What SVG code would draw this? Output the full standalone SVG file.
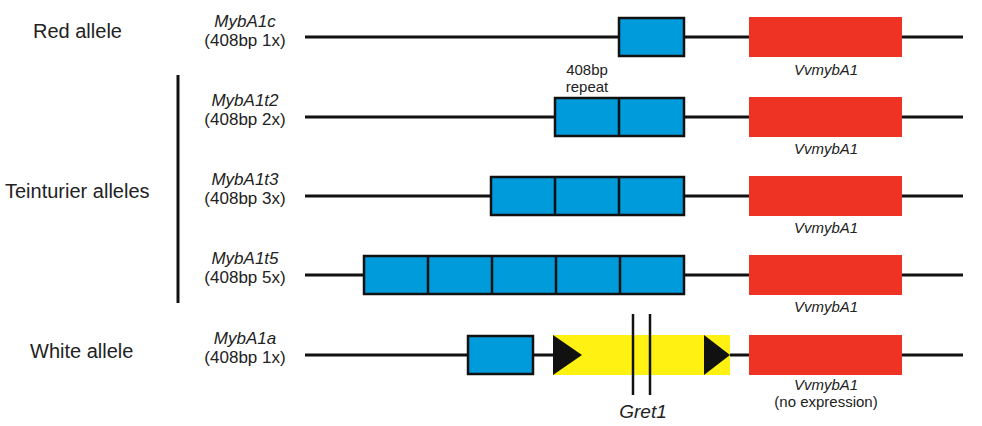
<svg xmlns="http://www.w3.org/2000/svg" width="982" height="426" viewBox="0 0 982 426">
<style>
.bg{fill:#ffffff}
.dna{stroke:#111;stroke-width:3;fill:none}
.rep{fill:#009bdb;stroke:#111;stroke-width:2.5}
.div{stroke:#111;stroke-width:2.5}
.gene{fill:#ee3324}
.te{fill:#fff212}
.ltr{fill:#111}
.t{font-family:"Liberation Sans",Arial,sans-serif;fill:#222}
.grp{font-size:20px}
.nm{font-size:17px;font-style:italic;text-anchor:middle}
.sub{font-size:17px;text-anchor:middle}
.gl{font-size:15px;font-style:italic;text-anchor:middle}
.sm{font-size:15px;text-anchor:middle}
</style>
<rect class="bg" width="982" height="426"/>
<g id="labels">
<text class="t grp" x="33" y="38">Red allele</text>
<text class="t grp" x="5" y="198">Teinturier alleles</text>
<text class="t grp" x="30" y="358">White allele</text>
<line x1="178" y1="75" x2="178" y2="303" stroke="#111" stroke-width="3"/>
</g>
<g id="connectors">
<line class="dna" x1="305" y1="37" x2="963" y2="37"/>
<line class="dna" x1="305" y1="117" x2="963" y2="117"/>
<line class="dna" x1="305" y1="196" x2="963" y2="196"/>
<line class="dna" x1="305" y1="275" x2="963" y2="275"/>
<line class="dna" x1="305" y1="355" x2="963" y2="355"/>
</g>
<g id="row-MybA1c">
<text class="t nm" x="245" y="27">MybA1c</text>
<text class="t sub" x="245" y="46">(408bp 1x)</text>
<rect class="rep" x="619" y="18" width="65" height="38"/>
<rect class="gene" x="749" y="17" width="153" height="40"/>
<text class="t gl" x="826" y="75">VvmybA1</text>
</g>
<g id="row-MybA1t2">
<text class="t nm" x="245" y="106">MybA1t2</text>
<text class="t sub" x="245" y="125">(408bp 2x)</text>
<text class="t sm" x="587" y="75">408bp</text>
<text class="t sm" x="587" y="92">repeat</text>
<rect class="rep" x="555" y="98" width="129" height="38"/>
<line class="div" x1="619" y1="98" x2="619" y2="136"/>
<rect class="gene" x="749" y="97" width="153" height="40"/>
<text class="t gl" x="826" y="154">VvmybA1</text>
</g>
<g id="row-MybA1t3">
<text class="t nm" x="245" y="185">MybA1t3</text>
<text class="t sub" x="245" y="204">(408bp 3x)</text>
<rect class="rep" x="491" y="177" width="193" height="38"/>
<line class="div" x1="555" y1="177" x2="555" y2="215"/>
<line class="div" x1="619" y1="177" x2="619" y2="215"/>
<rect class="gene" x="749" y="176" width="153" height="40"/>
<text class="t gl" x="826" y="233">VvmybA1</text>
</g>
<g id="row-MybA1t5">
<text class="t nm" x="245" y="264">MybA1t5</text>
<text class="t sub" x="245" y="283">(408bp 5x)</text>
<rect class="rep" x="364" y="256" width="320" height="38"/>
<line class="div" x1="428" y1="256" x2="428" y2="294"/>
<line class="div" x1="492" y1="256" x2="492" y2="294"/>
<line class="div" x1="556" y1="256" x2="556" y2="294"/>
<line class="div" x1="620" y1="256" x2="620" y2="294"/>
<rect class="gene" x="749" y="255" width="153" height="40"/>
<text class="t gl" x="826" y="312">VvmybA1</text>
</g>
<g id="row-MybA1a">
<text class="t nm" x="245" y="344">MybA1a</text>
<text class="t sub" x="245" y="363">(408bp 1x)</text>
<rect class="rep" x="468" y="336" width="65" height="38"/>
<rect class="te" x="553" y="335" width="177" height="40"/>
<polygon class="ltr" points="553,335 582,355 553,375"/>
<polygon class="ltr" points="704,335 730,355 704,375"/>
<line x1="633" y1="314" x2="633" y2="395" stroke="#111" stroke-width="2.5"/>
<line x1="650" y1="314" x2="650" y2="395" stroke="#111" stroke-width="2.5"/>
<text class="t" x="643" y="418" font-size="19" font-style="italic" text-anchor="middle">Gret1</text>
<rect class="gene" x="749" y="335" width="153" height="40"/>
<text class="t gl" x="826" y="390">VvmybA1</text>
<text class="t sm" x="826" y="407">(no expression)</text>
</g>
</svg>
